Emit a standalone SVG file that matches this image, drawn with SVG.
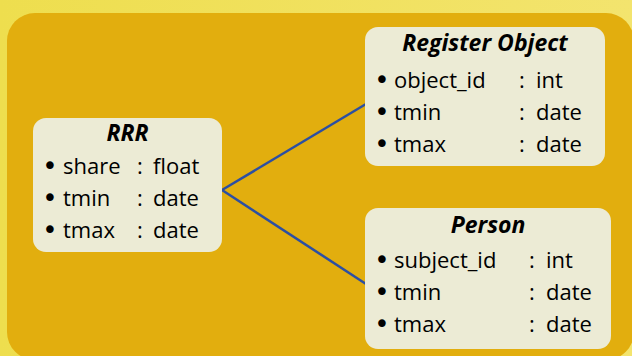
<svg xmlns="http://www.w3.org/2000/svg" width="632" height="356" viewBox="0 0 632 356">
  <defs>
    <linearGradient id="bgGrad" x1="0" y1="0" x2="1" y2="0">
      <stop offset="0" stop-color="#EEDE4E"/>
      <stop offset="1" stop-color="#F3E46E"/>
    </linearGradient>
    <style>
      .box { fill: #ECEBD5; }
      .title { font-family: "Open Sans", "Liberation Sans", sans-serif; font-size: 23px; font-weight: bold; font-style: italic; fill: #000; text-anchor: middle; }
      .row { font-family: "Open Sans", "Liberation Sans", sans-serif; font-size: 22px; fill: #000; }
      .bullet { font-family: "DejaVu Sans", sans-serif; font-size: 26px; fill: #000; text-anchor: middle; }
      .colon { text-anchor: middle; }
      .conn { fill: none; stroke: #2C4FA3; stroke-width: 2.5; }
    </style>
  </defs>
  <rect x="0" y="0" width="632" height="356" fill="url(#bgGrad)"/>
  <rect x="7" y="13" width="627" height="347" rx="28" ry="28" fill="#E2AE0E"/>

  <g id="connectors">
    <line class="conn" x1="222" y1="190" x2="366" y2="104"/>
    <line class="conn" x1="222" y1="190" x2="366" y2="284"/>
  </g>

  <g id="node-rrr">
    <rect class="box" x="33" y="118" width="189" height="134" rx="13" ry="13"/>
    <text class="title" x="127.5" y="141">RRR</text>
    <text class="bullet" x="50" y="175">•</text>
    <text class="row" x="63" y="174">share</text>
    <text class="row colon" x="140" y="174">:</text>
    <text class="row" x="153" y="174">float</text>
    <text class="bullet" x="50" y="207">•</text>
    <text class="row" x="63" y="206">tmin</text>
    <text class="row colon" x="140" y="206">:</text>
    <text class="row" x="153" y="206">date</text>
    <text class="bullet" x="50" y="239">•</text>
    <text class="row" x="63" y="238">tmax</text>
    <text class="row colon" x="140" y="238">:</text>
    <text class="row" x="153" y="238">date</text>
  </g>

  <g id="node-register-object">
    <rect class="box" x="365" y="27" width="240" height="139" rx="13" ry="13"/>
    <text class="title" x="485" y="51">Register Object</text>
    <text class="bullet" x="382" y="89">•</text>
    <text class="row" x="394" y="88">object_id</text>
    <text class="row colon" x="522" y="88">:</text>
    <text class="row" x="536" y="88">int</text>
    <text class="bullet" x="382" y="121">•</text>
    <text class="row" x="394" y="120">tmin</text>
    <text class="row colon" x="522" y="120">:</text>
    <text class="row" x="536" y="120">date</text>
    <text class="bullet" x="382" y="153">•</text>
    <text class="row" x="394" y="152">tmax</text>
    <text class="row colon" x="522" y="152">:</text>
    <text class="row" x="536" y="152">date</text>
  </g>

  <g id="node-person">
    <rect class="box" x="365" y="208" width="246" height="141" rx="13" ry="13"/>
    <text class="title" x="488" y="233">Person</text>
    <text class="bullet" x="382" y="269">•</text>
    <text class="row" x="394" y="268">subject_id</text>
    <text class="row colon" x="532" y="268">:</text>
    <text class="row" x="546" y="268">int</text>
    <text class="bullet" x="382" y="301">•</text>
    <text class="row" x="394" y="300">tmin</text>
    <text class="row colon" x="532" y="300">:</text>
    <text class="row" x="546" y="300">date</text>
    <text class="bullet" x="382" y="333">•</text>
    <text class="row" x="394" y="332">tmax</text>
    <text class="row colon" x="532" y="332">:</text>
    <text class="row" x="546" y="332">date</text>
  </g>
</svg>
